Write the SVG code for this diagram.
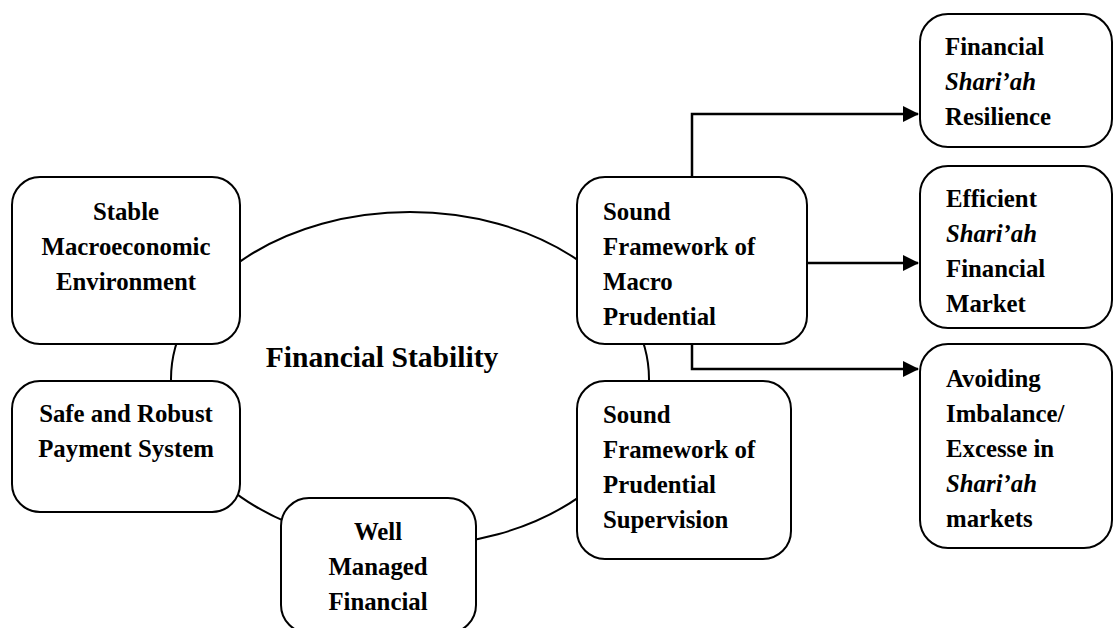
<svg xmlns="http://www.w3.org/2000/svg" width="1114" height="628" viewBox="0 0 1114 628">
<style>
.box{fill:#fff;stroke:#000;stroke-width:2}
.t{font-family:"Liberation Serif","Times New Roman",serif;font-weight:bold;font-size:24.8px;fill:#000}
.c{text-anchor:middle}
.i{font-style:italic}
.title{font-family:"Liberation Serif","Times New Roman",serif;font-weight:bold;font-size:29.6px;fill:#000;text-anchor:middle}
.arr{fill:none;stroke:#000;stroke-width:2.5}
</style>
<defs>
<marker id="ah" markerWidth="16" markerHeight="16" refX="15" refY="8" orient="auto" markerUnits="userSpaceOnUse">
<path d="M0,0 L16,8 L0,16 Z" fill="#000"/>
</marker>
</defs>
<rect width="1114" height="628" fill="#fff"/>
<g id="ring">
<ellipse cx="410" cy="379" rx="239" ry="167" fill="none" stroke="#000" stroke-width="2"/>
</g>
<g id="connectors">
<path class="arr" d="M692,177 V114 H918" marker-end="url(#ah)"/>
<path class="arr" d="M807,263 H918" marker-end="url(#ah)"/>
<path class="arr" d="M692,344 V369 H918" marker-end="url(#ah)"/>
</g>
<g id="stable">
<rect class="box" x="12" y="177" width="228" height="167" rx="28"/>
<text class="t c" x="126" y="220">Stable</text>
<text class="t c" x="126" y="255">Macroeconomic</text>
<text class="t c" x="126" y="290">Environment</text>
</g>
<g id="payment">
<rect class="box" x="12" y="381" width="228" height="131" rx="28"/>
<text class="t c" x="126" y="422">Safe and Robust</text>
<text class="t c" x="126" y="457">Payment System</text>
</g>
<g id="wellmanaged">
<rect class="box" x="281" y="498" width="195" height="135" rx="28"/>
<text class="t c" x="378" y="540">Well</text>
<text class="t c" x="378" y="575">Managed</text>
<text class="t c" x="378" y="610">Financial</text>
</g>
<g id="title">
<text class="title" x="382" y="367">Financial Stability</text>
</g>
<g id="macro">
<rect class="box" x="577" y="177" width="230" height="167" rx="28"/>
<text class="t" x="603" y="220">Sound</text>
<text class="t" x="603" y="255">Framework of</text>
<text class="t" x="603" y="290">Macro</text>
<text class="t" x="603" y="325">Prudential</text>
</g>
<g id="prudential">
<rect class="box" x="577" y="381" width="214" height="178" rx="28"/>
<text class="t" x="603" y="423">Sound</text>
<text class="t" x="603" y="458">Framework of</text>
<text class="t" x="603" y="493">Prudential</text>
<text class="t" x="603" y="528">Supervision</text>
</g>
<g id="resilience">
<rect class="box" x="920" y="14" width="192" height="133" rx="28"/>
<text class="t" x="945" y="55">Financial</text>
<text class="t i" x="945" y="90">Shari’ah</text>
<text class="t" x="945" y="125">Resilience</text>
</g>
<g id="efficient">
<rect class="box" x="920" y="166" width="192" height="162" rx="28"/>
<text class="t" x="946" y="207">Efficient</text>
<text class="t i" x="946" y="242">Shari’ah</text>
<text class="t" x="946" y="277">Financial</text>
<text class="t" x="946" y="312">Market</text>
</g>
<g id="avoiding">
<rect class="box" x="920" y="344" width="192" height="204" rx="28"/>
<text class="t" x="946" y="387">Avoiding</text>
<text class="t" x="946" y="422">Imbalance/</text>
<text class="t" x="946" y="457">Excesse in</text>
<text class="t i" x="946" y="492">Shari’ah</text>
<text class="t" x="946" y="527">markets</text>
</g>
</svg>
